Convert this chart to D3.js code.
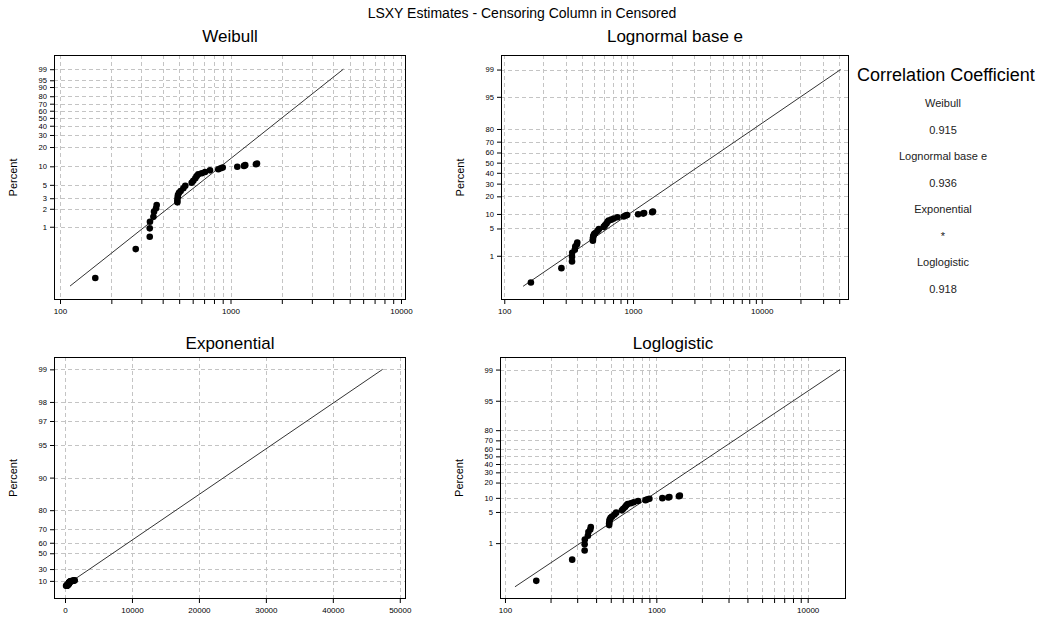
<!DOCTYPE html>
<html>
<head>
<meta charset="utf-8">
<script src="https://cdn.jsdelivr.net/npm/d3@7"></script>
<style>
  html, body { margin: 0; padding: 0; background: #fff; }
  svg { display: block; }
  text { font-family: Arial, "Liberation Sans", sans-serif; }
</style>
</head>
<body>
<svg id="chart" width="1044" height="626"></svg>
<script>
// ---------------- DATA ----------------
const failureTimes = [161, 278, 336, 336, 337, 353, 356, 366, 369, 488, 488, 490, 492, 499, 510,
  529, 543, 592, 605, 622, 634, 647, 678, 709, 758, 848, 876, 900, 1096, 1200, 1220, 1410, 1430];
const plotPercents = [0.137, 0.42, 0.68, 0.94, 1.21, 1.47, 1.79, 2.04, 2.31, 2.56, 2.80, 3.11, 3.39, 3.70, 3.95,
  4.38, 4.83, 5.42, 5.84, 6.40, 6.98, 7.43, 7.72, 8.10, 8.62, 8.95, 9.30, 9.55, 9.85, 10.15, 10.45, 10.8, 11.1];

// fitted lines: [time, percent] end points
const weibullFit = [[114.5, 0.1], [4590, 99]];
const lognormalFit = [[140, 0.1], [41000, 99]];
const exponentialFit = [[10, 0.1], [47440, 99]];
const loglogisticFit = [[116.4, 0.1], [16370, 99]];

const distNames = ["Weibull", "Lognormal base e", "Exponential", "Loglogistic"];
const corrValues = ["0.915", "0.936", "*", "0.918"];

const weibullYTicks = [1, 2, 3, 5, 10, 20, 30, 40, 50, 60, 70, 80, 90, 95, 99];
const lognormalYTicks = [1, 5, 10, 20, 30, 40, 50, 60, 70, 80, 95, 99];
const exponentialYTicks = [10, 30, 50, 60, 70, 80, 90, 95, 97, 98, 99];
const loglogisticYTicks = [1, 5, 10, 20, 30, 40, 50, 60, 70, 80, 95, 99];

const logXTicks = [100, 200, 300, 400, 500, 600, 700, 800, 900, 1000, 2000, 3000, 4000, 5000, 6000, 7000, 8000, 9000, 10000];
const logXTicksWide = logXTicks.concat([20000, 30000, 40000]);
const logXLabels = [100, 1000, 10000];
const expXTicks = [0, 10000, 20000, 30000, 40000, 50000];

// axis limits (x in time units, y in transformed probability units)
const weibullXLim = [92.2, 10700], weibullYLim = [-7.45, 2.08];
const lognormalXLim = [94.3, 47650], lognormalYLim = [-3.432, 2.690];
const exponentialXLim = [-1644, 50930], exponentialYLim = [-0.28, 4.868];
const loglogisticXLim = [92.7, 17920], loglogisticYLim = [-7.553, 5.261];

// ---------------- TRANSFORMS ----------------
function probit(p) {
  const a = [-3.969683028665376e+01, 2.209460984245205e+02, -2.759285104469687e+02, 1.383577518672690e+02, -3.066479806614716e+01, 2.506628277459239e+00];
  const b = [-5.447609879822406e+01, 1.615858368580409e+02, -1.556989798598866e+02, 6.680131188771972e+01, -1.328068155288572e+01];
  const c = [-7.784894002430293e-03, -3.223964580411365e-01, -2.400758277161838e+00, -2.549732539343734e+00, 4.374664141464968e+00, 2.938163982698783e+00];
  const d = [7.784695709041462e-03, 3.224671290700398e-01, 2.445134137142996e+00, 3.754408661907416e+00];
  const pl = 0.02425, ph = 1 - pl;
  let q, r;
  if (p < pl) { q = Math.sqrt(-2 * Math.log(p)); return (((((c[0]*q+c[1])*q+c[2])*q+c[3])*q+c[4])*q+c[5]) / ((((d[0]*q+d[1])*q+d[2])*q+d[3])*q+1); }
  if (p <= ph) { q = p - 0.5; r = q*q; return (((((a[0]*r+a[1])*r+a[2])*r+a[3])*r+a[4])*r+a[5])*q / (((((b[0]*r+b[1])*r+b[2])*r+b[3])*r+b[4])*r+1); }
  q = Math.sqrt(-2 * Math.log(1 - p)); return -(((((c[0]*q+c[1])*q+c[2])*q+c[3])*q+c[4])*q+c[5]) / ((((d[0]*q+d[1])*q+d[2])*q+d[3])*q+1);
}
const tWeibull = pc => Math.log(-Math.log(1 - pc / 100));
const tNormal = pc => probit(pc / 100);
const tExp = pc => -Math.log(1 - pc / 100);
const tLogis = pc => Math.log(pc / (100 - pc));

// ---------------- LAYOUT ----------------
const panels = [
  { title: "Weibull", box: { l: 54, r: 406, t: 55, b: 300 }, titleY: 42, xType: "log", xLim: weibullXLim, yLim: weibullYLim,
    tf: tWeibull, yTicks: weibullYTicks, xTicks: logXTicks, xLabels: logXLabels, fit: weibullFit },
  { title: "Lognormal base e", box: { l: 501, r: 849, t: 55, b: 300 }, titleY: 42, xType: "log", xLim: lognormalXLim, yLim: lognormalYLim,
    tf: tNormal, yTicks: lognormalYTicks, xTicks: logXTicksWide, xLabels: logXLabels, fit: lognormalFit },
  { title: "Exponential", box: { l: 54, r: 406, t: 357, b: 599 }, titleY: 349, xType: "lin", xLim: exponentialXLim, yLim: exponentialYLim,
    tf: tExp, yTicks: exponentialYTicks, xTicks: expXTicks, xLabels: expXTicks, fit: exponentialFit },
  { title: "Loglogistic", box: { l: 500, r: 846, t: 357, b: 599 }, titleY: 349, xType: "log", xLim: loglogisticXLim, yLim: loglogisticYLim,
    tf: tLogis, yTicks: loglogisticYTicks, xTicks: logXTicks, xLabels: logXLabels, fit: loglogisticFit }
];

const svg = d3.select("#chart");

svg.append("text").attr("x", 522).attr("y", 18).attr("text-anchor", "middle")
  .attr("font-size", 14).attr("fill", "#000").text("LSXY Estimates - Censoring Column in Censored");

panels.forEach((P, i) => {
  const bx = P.box;
  const x = (P.xType === "log" ? d3.scaleLog() : d3.scaleLinear()).domain(P.xLim).range([bx.l, bx.r]);
  const y = d3.scaleLinear().domain(P.yLim).range([bx.b, bx.t]);
  const g = svg.append("g");
  const clipId = "clip" + i;
  svg.append("clipPath").attr("id", clipId).append("rect")
    .attr("x", bx.l).attr("y", bx.t).attr("width", bx.r - bx.l).attr("height", bx.b - bx.t);

  // title
  g.append("text").attr("x", (bx.l + bx.r) / 2).attr("y", P.titleY).attr("text-anchor", "middle")
    .attr("font-size", 17).attr("fill", "#000").text(P.title);

  // grid
  const grid = g.append("g").attr("stroke", "#c4c4c4").attr("stroke-width", 1).attr("stroke-dasharray", "4,3")
    .attr("shape-rendering", "crispEdges");
  grid.selectAll("line.vx").data(P.xTicks).enter().append("line")
    .attr("x1", d => Math.round(x(d)) + 0.5).attr("x2", d => Math.round(x(d)) + 0.5)
    .attr("y1", bx.t).attr("y2", bx.b);
  grid.selectAll("line.hy").data(P.yTicks).enter().append("line")
    .attr("x1", bx.l).attr("x2", bx.r)
    .attr("y1", d => Math.round(y(P.tf(d))) + 0.5).attr("y2", d => Math.round(y(P.tf(d))) + 0.5);

  // x axis
  const xAxis = (P.xType === "log" ? d3.axisBottom(x).tickValues(P.xTicks)
      .tickFormat(d => P.xLabels.includes(d) ? String(d) : "")
    : d3.axisBottom(x).tickValues(P.xTicks).tickFormat(d => String(d)))
    .tickSizeOuter(0).tickSizeInner(4).tickPadding(4);
  const gx = g.append("g").attr("transform", `translate(0,${bx.b})`).call(xAxis);
  gx.select(".domain").remove();
  gx.selectAll("text").attr("font-size", 8).attr("fill", "#000").attr("font-family", "Arial, 'Liberation Sans', sans-serif");
  gx.selectAll("line").attr("stroke", "#000");

  // y axis
  const yAxis = d3.axisLeft(y).tickValues(P.yTicks.map(P.tf))
    .tickFormat((d, k) => String(P.yTicks[k])).tickSizeOuter(0).tickSizeInner(4).tickPadding(3);
  const gy = g.append("g").attr("transform", `translate(${bx.l},0)`).call(yAxis);
  gy.select(".domain").remove();
  gy.selectAll("text").attr("font-size", 7.6).attr("fill", "#000").attr("font-family", "Arial, 'Liberation Sans', sans-serif");
  gy.selectAll("line").attr("stroke", "#000");

  // y label
  g.append("text").attr("transform", `translate(${bx.l - 37},${(bx.t + bx.b) / 2}) rotate(-90)`)
    .attr("text-anchor", "middle").attr("font-size", 11).attr("fill", "#000").text("Percent");

  // fitted line
  const lineGen = d3.line().x(d => x(d[0])).y(d => y(P.tf(d[1])));
  g.append("path").datum(P.fit).attr("d", lineGen).attr("fill", "none")
    .attr("stroke", "#333").attr("stroke-width", 1).attr("clip-path", `url(#${clipId})`);

  // points
  g.append("g").selectAll("circle").data(failureTimes).enter().append("circle")
    .attr("cx", d => x(d)).attr("cy", (d, k) => y(P.tf(plotPercents[k])))
    .attr("r", 3.3).attr("fill", "#000");

  // frame
  g.append("rect").attr("x", bx.l + 0.5).attr("y", bx.t + 0.5).attr("width", bx.r - bx.l - 1).attr("height", bx.b - bx.t - 1)
    .attr("fill", "none").attr("stroke", "#000").attr("stroke-width", 1).attr("shape-rendering", "crispEdges");
});

// correlation table
const corr = svg.append("g");
corr.append("text").attr("x", 946).attr("y", 81).attr("text-anchor", "middle").attr("font-size", 18)
  .attr("fill", "#000").text("Correlation Coefficient");
const rows = [];
distNames.forEach((n, i) => { rows.push(n); rows.push(corrValues[i]); });
const rowY = d3.scalePoint().domain(d3.range(rows.length)).range([107, 293]);
corr.selectAll("text.row").data(rows).enter().append("text")
  .attr("x", 943).attr("y", (d, i) => rowY(i)).attr("text-anchor", "middle")
  .attr("font-size", 11).attr("fill", "#222").text(d => d);
</script>
</body>
</html>
